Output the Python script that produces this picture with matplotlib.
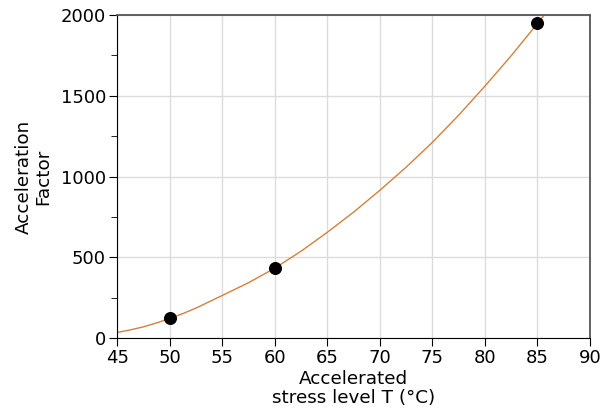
import matplotlib.pyplot as plt
from matplotlib.ticker import MultipleLocator

# measured test points
temp_pts = [50, 60, 85]
af_pts = [124, 433, 1949]

# fitted curve
temp_fit = [45, 46.25, 47.5, 48.75, 50, 51.25, 52.5, 55, 57.5, 60, 62.5, 65,
            67.5, 70, 72.5, 75, 77.5, 80, 82.5, 85, 86]
af_fit = [35, 51, 70, 94, 122, 152, 186, 264, 343, 433, 538, 655,
          780, 915, 1058, 1212, 1380, 1560, 1748, 1948, 2030]

plt.rcParams['font.family'] = 'DejaVu Sans'

fig = plt.figure(figsize=(6.13, 4.18), dpi=100)
ax = fig.add_axes([0.191, 0.191, 0.7715, 0.773])

ax.plot(temp_fit, af_fit, color='#d4803e', lw=1, zorder=2)
ax.scatter(temp_pts, af_pts, s=70, color='black', zorder=3)

ax.set_xlim(45, 90)
ax.set_ylim(0, 2000)
ax.xaxis.set_major_locator(MultipleLocator(5))
ax.yaxis.set_major_locator(MultipleLocator(500))
ax.yaxis.set_minor_locator(MultipleLocator(250))
ax.grid(True, which='major', color='#dcdcdc', lw=1)
ax.set_axisbelow(True)

ax.tick_params(axis='both', which='major', labelsize=13, length=6, direction='out', pad=2)
ax.tick_params(axis='y', which='minor', length=4)
for s in ['left', 'bottom']:
    ax.spines[s].set_color('black')
for s in ['top', 'right']:
    ax.spines[s].set_color('#555555')
    ax.spines[s].set_linewidth(1.3)

ax.set_xlabel('Accelerated\nstress level T (°C)', fontsize=13.2, linespacing=1.1, labelpad=2)
ax.set_ylabel('Acceleration\nFactor', fontsize=13.2, linespacing=1.1, labelpad=6)

fig.savefig('out.png', dpi=100)
